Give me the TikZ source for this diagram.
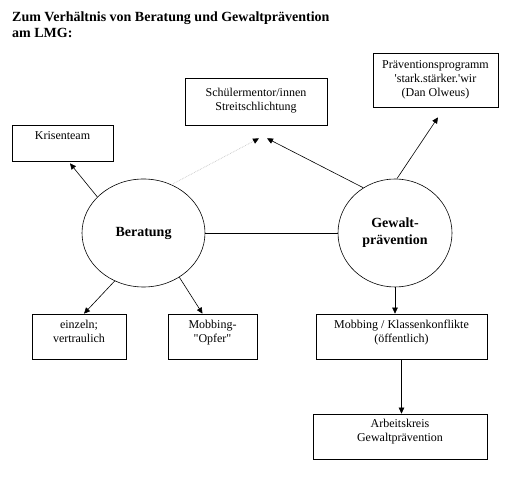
\documentclass[tikz,border=0pt]{standalone}
\usepackage{fontspec}
\setmainfont{Liberation Serif}
\usepackage{tikz}
\usetikzlibrary{shapes.geometric, arrows.meta, positioning}
\tikzstyle{focus} = [ellipse, draw=black, line width=0.6pt, minimum width=123pt, minimum height=108pt, align=center, inner sep=0pt, font=\fontsize{14}{17}\selectfont\bfseries]
\tikzstyle{box} = [rectangle, draw=black, line width=0.7pt, align=center, inner sep=0pt, font=\fontsize{12}{14}\selectfont, text height=29pt, text depth=16pt]
\tikzstyle{arrow} = [line width=0.6pt, ->, >={Triangle[length=6pt, width=5.5pt]}]
\tikzstyle{dotarrow} = [draw=gray!45, densely dotted, line width=0.7pt, -{Triangle[length=6pt, width=5.5pt, color=black]}]

\begin{document}
\begin{tikzpicture}[node distance=100pt]
        \useasboundingbox (0,0) rectangle (512pt,487pt);
        \node (title) [anchor=north west, align=left, inner sep=0pt, font=\fontsize{14}{16}\selectfont\bfseries] at (12pt,475pt) {Zum Verhältnis von Beratung und Gewaltprävention\\am LMG:};

        \node (beratung) [focus] at (143.5pt,254pt) {Beratung};
        \node (gewalt) [focus, minimum width=114pt, right of=beratung, xshift=151.5pt] {Gewalt-\\prävention};
        \node (kris) [box, minimum width=101pt, text height=15pt, text depth=21pt, above of=beratung, xshift=-81pt, yshift=-10pt] {Krisenteam};
        \node (schuel) [box, minimum width=142pt, text height=33pt, text depth=14pt, above of=beratung, xshift=112.5pt, yshift=31.5pt] {Schülermentor/innen\\Streitschlichtung};
        \node (praev) [box, minimum width=125pt, text height=44pt, text depth=10pt, above of=gewalt, xshift=40.5pt, yshift=53pt] {Präventionsprogramm\\\textquotesingle stark.stärker.\textquotesingle wir\\(Dan Olweus)};
        \node (einz) [box, minimum width=94pt, below of=beratung, xshift=-64.5pt, yshift=-3.5pt] {einzeln;\\vertraulich};
        \node (opfer) [box, minimum width=89pt, below of=beratung, xshift=69pt, yshift=-3.5pt] {Mobbing-\\\textquotedbl Opfer\textquotedbl};
        \node (mobb) [box, minimum width=171pt, below of=gewalt, xshift=6.5pt, yshift=-3.5pt] {Mobbing / Klassenkonflikte\\(öffentlich)};
        \node (arbeit) [box, minimum width=174pt, text height=28pt, text depth=17pt, below of=mobb, xshift=-1.5pt] {Arbeitskreis\\Gewaltprävention};

        \coordinate (krisin) at ([xshift=7.5pt, yshift=-2pt]kris.south);
        \coordinate (schuelin1) at ([xshift=3pt, yshift=-13pt]schuel.south);
        \coordinate (schuelin2) at ([xshift=11pt, yshift=-13pt]schuel.south);
        \coordinate (praevin) at ([xshift=2.5pt, yshift=-10pt]praev.south);

        \draw [line width=0.6pt] (beratung) -- (gewalt);
        \draw [arrow] (beratung.142) -- (krisin);
        \draw [dotarrow] (beratung.60) -- (schuelin1);
        \draw [arrow] (gewalt.125) -- (schuelin2);
        \draw [arrow] (gewalt.88) -- (praevin);
        \draw [arrow] (beratung.239) -- ([xshift=5pt]einz.north);
        \draw [arrow] (beratung.309) -- ([xshift=-10pt]opfer.north);
        \draw [arrow] (gewalt) -- (gewalt |- mobb.north);
        \draw [arrow] (mobb) -- (mobb |- arbeit.north);

    \end{tikzpicture}
\end{document}
